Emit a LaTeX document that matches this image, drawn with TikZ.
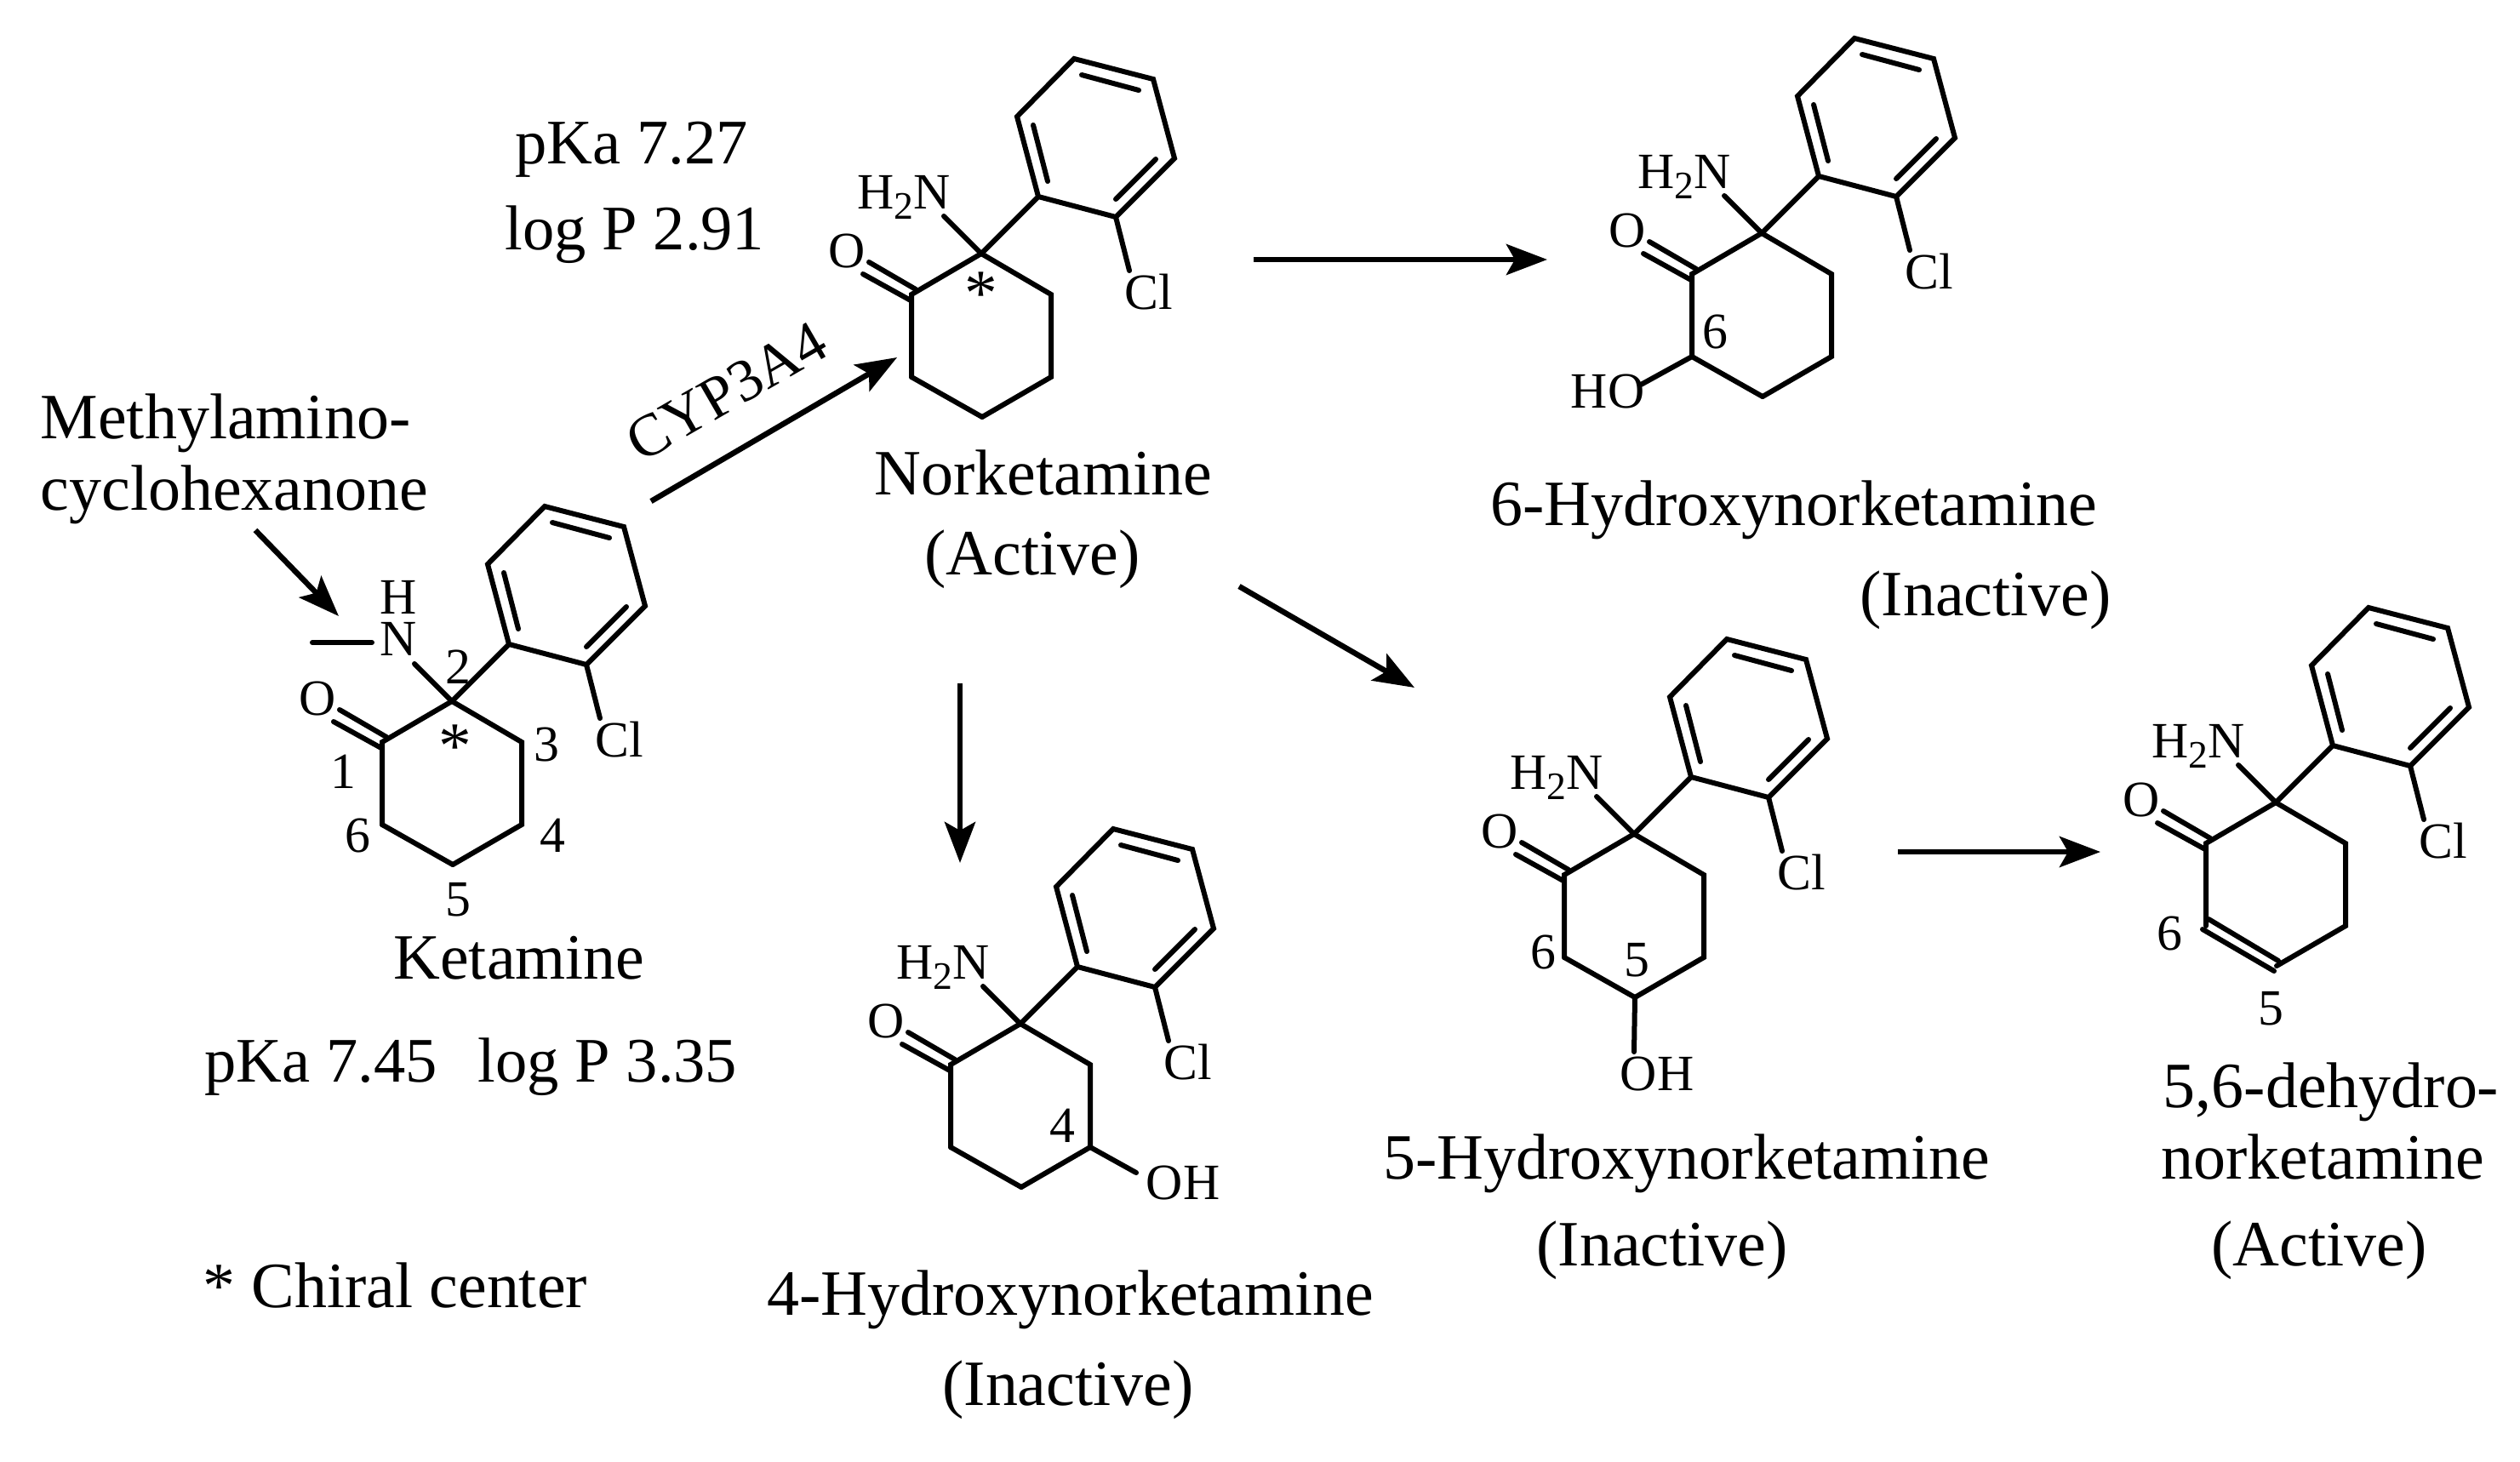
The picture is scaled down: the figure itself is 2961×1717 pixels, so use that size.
\documentclass[tikz,border=0pt]{standalone}
\usepackage{fontspec}
\setmainfont{Liberation Serif}
\usetikzlibrary{arrows.meta}
\newcommand{\amino}{H\raisebox{-.21em}{\fontsize{13}{13}\selectfont 2}N}
\tikzset{
  bond/.style={line width=.06cm,line cap=round},
  react/.style={line width=.065cm,-{Stealth[length=.48cm,width=.36cm,inset=.1cm]}},
  atom/.style={inner sep=0pt,font=\fontsize{17}{17}\selectfont},
  bigtext/.style={inner sep=0pt,anchor=base,font=\fontsize{21.6}{21.6}\selectfont},
  leftbig/.style={bigtext,anchor=base west},
  valuetext/.style={inner sep=0pt,anchor=base,font=\fontsize{21.2}{21.2}\selectfont},
  star/.style={inner sep=0pt,font=\fontsize{22}{22}\selectfont}
}
\begin{document}
\begin{tikzpicture}[x=.01cm,y=-.01cm]
\useasboundingbox (0,0) rectangle (2961,1717);
\foreach \n/\x/\y in {kt/531/824,nk/1153/298,hsix/2070/274,hfour/1199/1203,hfive/1920/980,dh/2674/943} % the six molecules
{
\begin{scope}[shift={(\x,\y)}]
\coordinate (\n c1) at (-82,48);
\coordinate (\n c2) at (0,0);
\coordinate (\n c3) at (82,48);
\coordinate (\n c4) at (82,145);
\coordinate (\n c5) at (1,192);
\coordinate (\n c6) at (-82,145);
\coordinate (\n nb) at (-44,-44);
\coordinate (\n n) at (-91,-53);
\coordinate (\n clb) at (174,20);
\draw[bond] (\n c6) -- (\n c1) -- (\n c2) -- (\n c3) -- (\n c4) -- (\n c5);
\draw[bond] (\n c2) -- (67,-67) -- (158,-43) -- (227,-112) -- (202,-205) -- (109,-229) -- (42,-161) -- (67,-67); % phenyl
\draw[bond] (118,-210) -- (185,-192);
\draw[bond] (61,-151) -- (78,-85);
\draw[bond] (158,-64) -- (205,-111);
\draw[bond] (-132,10) -- (-77,42); % C=O
\draw[bond] (-139,24) -- (-83,55);
\draw[bond] (158,-43) -- (\n clb);
\node[atom] (\n o) at (-158,-3) {O};
\node[atom] (\n cl) at (197,45) {Cl};
\end{scope}
}
\foreach \n in {kt,nk,hsix,hfour,hfive} % closing ring bond
\draw[bond] (\n c5) -- (\n c6);
\foreach \n in {nk,hsix,hfour,hfive,dh} % amine groups
{
\node[atom,anchor=base] (\n nh) at (\n n) {\amino};
\draw[bond] (\n nb) -- (\n c2);
}
% ketamine
\draw[bond] (ktnb) -- (ktc2);
\node[atom] (kth) at (468,702) {H};
\node[atom] (ktnn) at (468,751) {N};
\coordinate (ktme) at (367,755);
\coordinate (ktnl) at (437,755);
\draw[bond] (ktme) -- (ktnl);
\node[atom] (kttwo) at (538,784) {2};
\node[star] (ktstar) at (535,877) {*};
\node[atom] (ktthree) at (642,875) {3};
\node[atom] (ktone) at (403,907) {1};
\node[atom] (ktsix) at (420,982) {6};
\node[atom] (ktfour) at (649,982) {4};
\node[atom] (ktfive) at (538,1057) {5};
\node[star] (nkstar) at (1153,345) {*};
% hydroxy groups
\coordinate (hsixob) at (1928,452);
\draw[bond] (hsixc6) -- (hsixob);
\node[atom] (hsixho) at (1889,460) {HO};
\node[atom] (hsixnum) at (2015,390) {6};
\coordinate (hfourob) at (1335,1378);
\draw[bond] (hfourc4) -- (hfourob);
\node[atom] (hfouroh) at (1390,1390) {OH};
\node[atom] (hfournum) at (1248,1323) {4};
\coordinate (hfiveob) at (1920,1236);
\draw[bond] (hfivec5) -- (hfiveob);
\node[atom] (hfiveoh) at (1947,1262) {OH};
\node[atom] (hfivesix) at (1813,1119) {6};
\node[atom] (hfivefive) at (1923,1128) {5};
% dehydro double bond
\draw[bond] ([shift={(3,-8)}]dhc6) -- ([shift={(2,-6)}]dhc5);
\draw[bond] ([shift={(-4,4)}]dhc6) -- ([shift={(-3,6)}]dhc5);
\node[atom] (dhsix) at (2549,1097) {6};
\node[atom] (dhfive) at (2668,1185) {5};
% names and values
\node[leftbig] (methyl) at (47,515) {Methylamino-};
\node[leftbig] (cyclo) at (47,599) {cyclohexanone};
\node[bigtext] (ktname) at (610,1150) {Ketamine};
\node[valuetext,anchor=base west] (ktvalues) at (240,1271) {pKa 7.45\hspace{.64em}log P 3.35};
\node[leftbig] (chiral) at (238,1536) {* Chiral center};
\node[valuetext] (nkpka) at (742,192) {pKa 7.27};
\node[valuetext] (nklogp) at (746,293) {log P 2.91};
\node[bigtext] (nkname) at (1226,581) {Norketamine};
\node[bigtext] (nkact) at (1213,675) {(Active)};
\node[bigtext] (hsixname) at (2108,617) {6-Hydroxynorketamine};
\node[bigtext] (hsixact) at (2333,723) {(Inactive)};
\node[bigtext] (hfivename) at (1982,1385) {5-Hydroxynorketamine};
\node[bigtext] (hfiveact) at (1953,1487) {(Inactive)};
\node[bigtext] (hfourname) at (1258,1545) {4-Hydroxynorketamine};
\node[bigtext] (hfouract) at (1255,1651) {(Inactive)};
\node[bigtext] (dhname) at (2739,1301) {5,6-dehydro-};
\node[bigtext] (dhnameb) at (2729,1385) {norketamine};
\node[bigtext] (dhact) at (2725,1487) {(Active)};
\node[inner sep=0pt,font=\fontsize{20}{20}\selectfont,rotate=30] (cyp) at (854,460) {CYP3A4};
% arrows
\coordinate (a1) at (300,623);
\coordinate (a2) at (398,724);
\draw[react] (a1) -- (a2);
\coordinate (b1) at (765,589);
\coordinate (b2) at (1054,420);
\draw[react] (b1) -- (b2);
\coordinate (d1) at (1473,305);
\coordinate (d2) at (1818,305);
\draw[react] (d1) -- (d2);
\coordinate (e1) at (1128,803);
\coordinate (e2) at (1128,1014);
\draw[react] (e1) -- (e2);
\coordinate (f1) at (1456,689);
\coordinate (f2) at (1662,808);
\draw[react] (f1) -- (f2);
\coordinate (g1) at (2230,1001);
\coordinate (g2) at (2468,1001);
\draw[react] (g1) -- (g2);
\end{tikzpicture}
\end{document}
